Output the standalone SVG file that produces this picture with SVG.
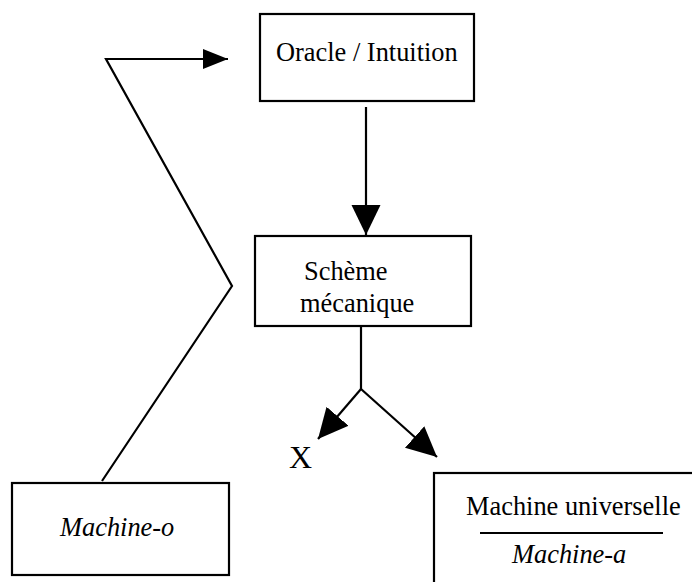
<svg xmlns="http://www.w3.org/2000/svg" width="692" height="582" viewBox="0 0 692 582">
<style>
.box{fill:#fff;stroke:#000;stroke-width:2.2}
.t{font-family:"Liberation Serif","Times New Roman",serif;font-size:26.4px;fill:#000}
.i{font-style:italic}
.c{fill:none;stroke:#000;stroke-width:2.2}
</style>
<defs>
<marker id="big" markerUnits="userSpaceOnUse" markerWidth="31" markerHeight="30" refX="30" refY="14.5" orient="auto">
<path d="M0,0 L30,14.5 L0,29 z" fill="#000"/>
</marker>
<marker id="small" markerUnits="userSpaceOnUse" markerWidth="26" markerHeight="21" refX="25" refY="10" orient="auto">
<path d="M0,0 L25,10 L0,20 z" fill="#000"/>
</marker>
</defs>
<rect width="692" height="582" fill="#fff"/>
<g id="connectors">
<polyline class="c" points="102,481 232,286 106,59 228,59" marker-end="url(#small)"/>
<line class="c" x1="366" y1="107" x2="366" y2="235" marker-end="url(#big)"/>
<polyline class="c" points="361,327 361,389"/>
<line class="c" x1="361" y1="389" x2="318" y2="439" marker-end="url(#big)"/>
<line class="c" x1="361" y1="389" x2="437" y2="457" marker-end="url(#big)"/>
</g>
<g id="oracle">
<rect class="box" x="260" y="14" width="214" height="87"/>
<text class="t" x="276" y="61">Oracle / Intuition</text>
</g>
<g id="scheme">
<rect class="box" x="255" y="236" width="216" height="90"/>
<text class="t" x="304" y="280">Schème</text>
<text class="t" x="300" y="312">mécanique</text>
</g>
<g id="x-label">
<text class="t" x="289" y="468" style="font-size:32px">X</text>
</g>
<g id="machine-o">
<rect class="box" x="12" y="483" width="217" height="92"/>
<text class="t i" x="60" y="536">Machine-o</text>
</g>
<g id="machine-universelle">
<rect class="box" x="434" y="473" width="270" height="120"/>
<text class="t" x="466" y="515">Machine universelle</text>
<line x1="480" y1="533" x2="663" y2="533" stroke="#000" stroke-width="2.2"/>
<text class="t i" x="512" y="563">Machine-a</text>
</g>
</svg>
